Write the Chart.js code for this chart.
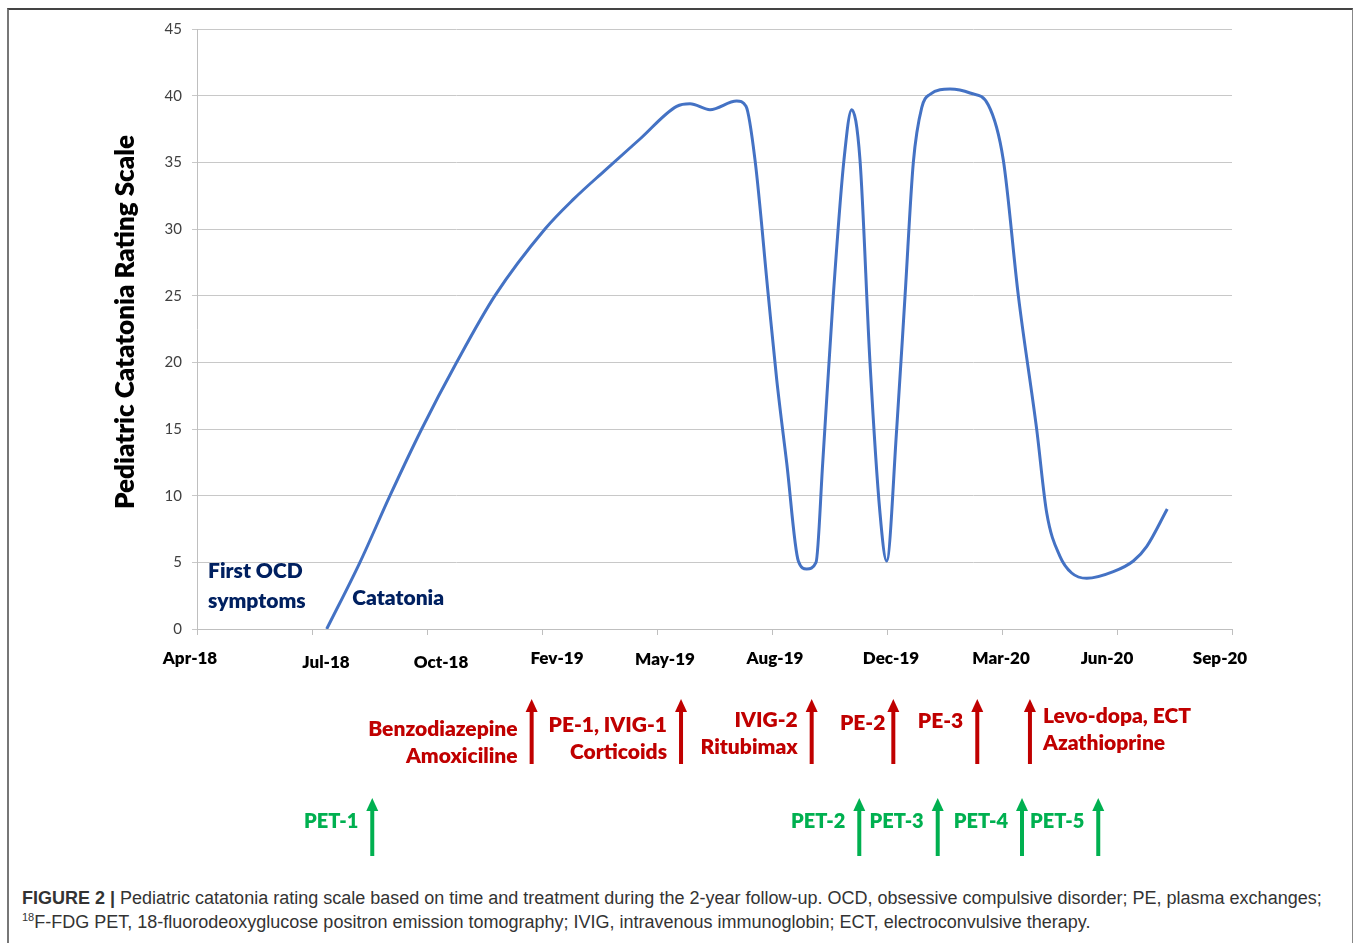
<!DOCTYPE html>
<html>
<head>
<meta charset="utf-8">
<title>Pediatric catatonia rating scale</title>
<script src="https://cdn.jsdelivr.net/npm/chart.js@4.4.0/dist/chart.umd.min.js"></script>
<style>
  body { margin: 0; background: #fff; width: 1358px; height: 943px; overflow: hidden; position: relative; }
  #frame { position: absolute; left: 7px; top: 8px; width: 1343px; height: 960px; border-left: 2px solid #777; border-top: 2px solid #444; border-right: 1px solid #888; }
  #wrap { position: absolute; left: 0; top: 0; width: 1358px; height: 880px; }
  #caption { position: absolute; left: 22px; top: 886px; font: 18px "Liberation Sans", Arial, sans-serif; color: #333; line-height: 24px; white-space: nowrap; }
  #caption sup { font-size: 11px; line-height: 0; }
</style>
</head>
<body>
<div id="frame"></div>
<div id="wrap"><canvas id="chart" width="1358" height="880"></canvas></div>
<div id="caption"><b>FIGURE 2 |</b> Pediatric catatonia rating scale based on time and treatment during the 2-year follow-up. OCD, obsessive compulsive disorder; PE, plasma exchanges;<br><sup>18</sup>F-FDG PET, 18-fluorodeoxyglucose positron emission tomography; IVIG, intravenous immunoglobin; ECT, electroconvulsive therapy.</div>

<script>
// x axis: evenly spaced date ticks, values below are in tick units (0 = Apr-18)
const tickLabels = ['Apr-18', 'Jul-18', 'Oct-18', 'Fev-19', 'May-19', 'Aug-19', 'Dec-19', 'Mar-20', 'Jun-20', 'Sep-20'];

// score curve
const timePos = [1.128, 1.417, 1.678, 1.954, 2.258, 2.591, 3.026, 3.270, 3.548, 3.852, 4.171, 4.287, 4.461, 4.693, 4.774,
  4.852, 4.968, 5.041, 5.128, 5.229, 5.302, 5.383, 5.441, 5.533, 5.626, 5.693, 5.765, 5.852, 5.939, 5.997,
  6.084, 6.157, 6.229, 6.302, 6.374, 6.548, 6.722, 6.881, 7.011, 7.142, 7.302, 7.389, 7.504, 7.606, 7.737,
  7.968, 8.142, 8.259, 8.437];
const scoreValues = [0, 5, 10, 15, 20, 25, 30, 32.2, 34.4, 36.75, 39.2, 39.4, 38.95, 39.6, 39.2,
  35.2, 25, 18.7, 12.45, 5.1, 4.5, 5, 12.45, 25, 35.2, 38.95, 35.2, 20, 8.7, 5.1,
  14.95, 25, 35, 39.1, 40.1, 40.5, 40.2, 39.3, 35.2, 25, 14.95, 8.7, 5.45, 4.2, 3.8,
  4.3, 5.1, 6.2, 9.0];

// treatments (red arrows) and PET scans (green arrows)
const treatTimes = [2.910, 4.209, 5.345, 6.055, 6.785, 7.243];
const treatLabels = [['Benzodiazepine', 'Amoxiciline'], ['PE-1, IVIG-1', 'Corticoids'], ['IVIG-2', 'Ritubimax'], ['PE-2'], ['PE-3'], ['Levo-dopa, ECT', 'Azathioprine']];
const petTimes = [1.524, 5.759, 6.441, 7.174, 7.837];
const petLabels = ['PET-1', 'PET-2', 'PET-3', 'PET-4', 'PET-5'];

const yTitle = 'Pediatric Catatonia Rating Scale';

const RED = '#C00000';
const GREEN = '#00B050';
const NAVY = '#002060';
const FONT = 'Lato, Calibri, sans-serif';
const BOLD = '800 ';

function drawArrow(ctx, px, top, bottom, color) {
  ctx.strokeStyle = color;
  ctx.fillStyle = color;
  ctx.lineWidth = 4;
  ctx.beginPath();
  ctx.moveTo(px, bottom);
  ctx.lineTo(px, top + 10);
  ctx.stroke();
  ctx.beginPath();
  ctx.moveTo(px, top);
  ctx.lineTo(px - 6, top + 13);
  ctx.lineTo(px + 6, top + 13);
  ctx.closePath();
  ctx.fill();
}

// arrows, labels and texts around the plot
const annotations = {
  id: 'annotations',
  afterDraw(chart) {
    const { ctx, scales: { x, y } } = chart;
    ctx.save();

    // y axis title
    ctx.save();
    ctx.translate(126, 322);
    ctx.rotate(-Math.PI / 2);
    ctx.font = BOLD + '26px ' + FONT;
    ctx.fillStyle = '#000';
    ctx.textAlign = 'center';
    ctx.textBaseline = 'middle';
    ctx.fillText(yTitle, 0, 0);
    ctx.restore();

    // x tick labels (Excel puts them a bit off the tick marks)
    const labelShift = [-7, 14, 14, 15, 8, 3, 4, -1, -10, -12];
    const labelDrop = [0, 4, 4, 0, 1, 0, 0, 0, 0, 0];
    ctx.font = BOLD + '17px ' + FONT;
    ctx.fillStyle = '#000';
    ctx.textAlign = 'center';
    ctx.textBaseline = 'middle';
    tickLabels.forEach((lab, i) => {
      ctx.fillText(lab, x.getPixelForValue(i) + labelShift[i], 659 + labelDrop[i]);
    });

    // texts inside the plot
    ctx.font = BOLD + '21px ' + FONT;
    ctx.fillStyle = NAVY;
    ctx.textAlign = 'left';
    ctx.fillText('First OCD', x.getPixelForValue(0.096), y.getPixelForValue(4.3));
    ctx.fillText('symptoms', x.getPixelForValue(0.096), y.getPixelForValue(2.05));
    ctx.fillText('Catatonia', x.getPixelForValue(1.35), y.getPixelForValue(2.3));

    // red treatment arrows
    const redTextY = [729, 725, 720, 723, 721, 716];
    treatTimes.forEach((t, i) => {
      const px = x.getPixelForValue(t);
      drawArrow(ctx, px, 699, 764, RED);
      const right = i === treatTimes.length - 1;
      ctx.fillStyle = RED;
      ctx.textAlign = right ? 'left' : 'right';
      const tx = right ? px + 13 : px - (i === 3 ? 8 : 14);
      treatLabels[i].forEach((line, j) => {
        ctx.fillText(line, tx, redTextY[i] + j * 27);
      });
    });

    // green PET arrows
    ctx.font = BOLD + '20px ' + FONT;
    petTimes.forEach((t, i) => {
      const px = x.getPixelForValue(t);
      drawArrow(ctx, px, 798, 856, GREEN);
      ctx.fillStyle = GREEN;
      ctx.textAlign = 'right';
      ctx.fillText(petLabels[i], px - 14, 822);
    });

    ctx.restore();
  }
};

new Chart(document.getElementById('chart'), {
  type: 'line',
  data: {
    datasets: [{
      data: timePos.map((t, i) => ({ x: t, y: scoreValues[i] })),
      borderColor: '#4472C4',
      borderWidth: 3,
      pointRadius: 0,
      fill: false,
      cubicInterpolationMode: 'monotone'
    }]
  },
  options: {
    responsive: false,
    animation: false,
    layout: { padding: { left: 0, top: 29, right: 126, bottom: 201 } },
    plugins: { legend: { display: false }, tooltip: { enabled: false } },
    scales: {
      x: {
        type: 'linear',
        min: 0,
        max: tickLabels.length - 1,
        afterFit: (scale) => { scale.height = 50; },
        afterBuildTicks: (scale) => { scale.ticks = tickLabels.map((_, i) => ({ value: i })); },
        ticks: { display: false },
        grid: { drawOnChartArea: false, drawTicks: true, tickLength: 6, color: '#BFBFBF' },
        border: { color: '#BFBFBF', width: 1 }
      },
      y: {
        min: 0,
        max: 45,
        afterFit: (scale) => { scale.width = 197; },
        ticks: {
          stepSize: 5,
          padding: 10,
          color: '#404040',
          font: { family: FONT, size: 15 }
        },
        grid: { color: '#C8C8C8', tickLength: 5 },
        border: { color: '#BFBFBF', width: 1 }
      }
    }
  },
  plugins: [annotations]
});
</script>
</body>
</html>
